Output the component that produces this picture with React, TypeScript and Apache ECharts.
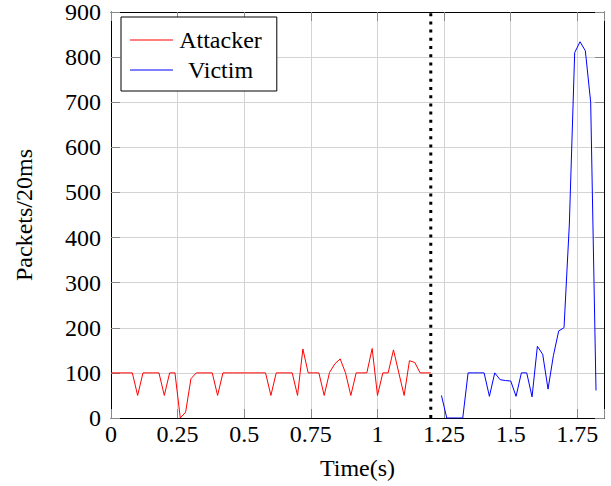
import React, { useEffect, useRef } from 'react';
import * as echarts from 'echarts';

const SAMPLE_STEP = 0.02;
const attackerStart = 0;
const attackerValues = [
  100, 100, 100, 100, 100, 50, 100, 100, 100, 100,
  50, 100, 100, 0, 13, 87, 100, 100, 100, 100,
  50, 100, 100, 100, 100, 100, 100, 100, 100, 100,
  50, 100, 100, 100, 100, 50, 153, 100, 100, 100,
  50, 101, 120, 131, 100, 50, 100, 100, 100, 154,
  50, 100, 100, 151, 100, 50, 127, 123, 100, 100,
  100,
];
const victimStart = 1.24;
const victimValues = [
  50, 0, 0, 0, 0, 100, 100, 100, 100, 48,
  100, 85, 83, 82, 48, 100, 100, 47, 159, 141,
  64, 138, 193, 200, 430, 810, 834, 814, 700, 61,
];
const switchTime = 1.2;
const seriesNames = ['Attacker', 'Victim'];
const xAxisTitle = 'Time(s)';
const yAxisTitle = 'Packets/20ms';
const xTickStep = 0.25;
const yTickStep = 100;

const FONT = 'Liberation Serif';

function toPairs(start: number, values: number[]) {
  return values.map((v, i) => [+(start + i * SAMPLE_STEP).toFixed(2), v]);
}

export default function App() {
  const ref = useRef<HTMLDivElement>(null);
  useEffect(() => {
    document.body.style.margin = '0';
    const chart = echarts.init(ref.current!, null, { renderer: 'svg' });
    const txt = { fontFamily: FONT, fontSize: 24, color: '#000' };
    const rich = { t: { ...txt } };
    const xLabelFmt = (v: number) => {
      const k = v / xTickStep;
      return Math.abs(k - Math.round(k)) < 1e-6 ? `{t|${+v.toFixed(2)}}` : '';
    };
    const yLabelFmt = (v: number) => `{t|${v}}`;
    const tick = { show: true, inside: true, length: 9, lineStyle: { color: '#888', width: 1 } };
    chart.setOption({
      animation: false,
      backgroundColor: '#fff',
      textStyle: { fontFamily: FONT },
      grid: { left: 111, right: 7, top: 9, bottom: 68, containLabel: false },
      legend: {
        orient: 'vertical',
        left: 121,
        top: 17,
        data: seriesNames.map((n) => ({ name: n, icon: 'rect' })),
        itemWidth: 43,
        itemHeight: 1,
        itemGap: 6,
        padding: [11, 15, 9, 9],
        borderColor: '#000',
        borderWidth: 1,
        backgroundColor: '#fff',
        formatter: (name: string) => `{t|${name}}`,
        textStyle: {
          ...txt,
          rich: { t: { width: 85, align: 'center', ...txt } },
        },
      },
      xAxis: [
        {
          type: 'value',
          min: 0,
          max: 1.85,
          interval: xTickStep,
          name: `{t|${xAxisTitle}}`,
          nameLocation: 'middle',
          nameGap: 38,
          nameTextStyle: { ...txt, rich },
          axisLine: { show: true, onZero: false, lineStyle: { color: '#000', width: 1 } },
          axisTick: tick,
          axisLabel: { ...txt, margin: 4, formatter: xLabelFmt, rich },
          splitLine: { show: true, lineStyle: { color: '#d3d3d3', width: 1 } },
        },
        {
          type: 'value',
          position: 'top',
          min: 0,
          max: 1.85,
          interval: xTickStep,
          axisLine: { show: true, onZero: false, lineStyle: { color: '#000', width: 1 } },
          axisTick: tick,
          axisLabel: { show: false },
          splitLine: { show: false },
        },
      ],
      yAxis: [
        {
          type: 'value',
          min: 0,
          max: 900,
          interval: yTickStep,
          name: `{t|${yAxisTitle}}`,
          nameLocation: 'middle',
          nameGap: 75,
          nameTextStyle: { ...txt, rich },
          axisLine: { show: true, onZero: false, lineStyle: { color: '#000', width: 1 } },
          axisTick: tick,
          axisLabel: { ...txt, margin: 10, formatter: yLabelFmt, rich },
          splitLine: { show: true, lineStyle: { color: '#d3d3d3', width: 1 } },
        },
        {
          type: 'value',
          position: 'right',
          min: 0,
          max: 900,
          interval: yTickStep,
          axisLine: { show: true, onZero: false, lineStyle: { color: '#000', width: 1 } },
          axisTick: tick,
          axisLabel: { show: false },
          splitLine: { show: false },
        },
      ],
      series: [
        {
          name: 'Attacker',
          type: 'line',
          data: toPairs(attackerStart, attackerValues),
          symbol: 'none',
          lineStyle: { color: '#ff0000', width: 1 },
          itemStyle: { color: '#ff0000' },
          z: 3,
        },
        {
          name: 'Victim',
          type: 'line',
          data: toPairs(victimStart, victimValues),
          symbol: 'none',
          lineStyle: { color: '#0000ff', width: 1 },
          itemStyle: { color: '#0000ff' },
          z: 3,
        },
        {
          name: 'switch',
          type: 'line',
          data: [
            [switchTime, 0],
            [switchTime, 900],
          ],
          symbol: 'none',
          lineStyle: { color: '#000', width: 3, type: [3, 5.2], cap: 'butt' },
          z: 4,
        },
      ],
    });
    return () => chart.dispose();
  }, []);
  return <div ref={ref} style={{ width: 611, height: 486 }} />;
}
